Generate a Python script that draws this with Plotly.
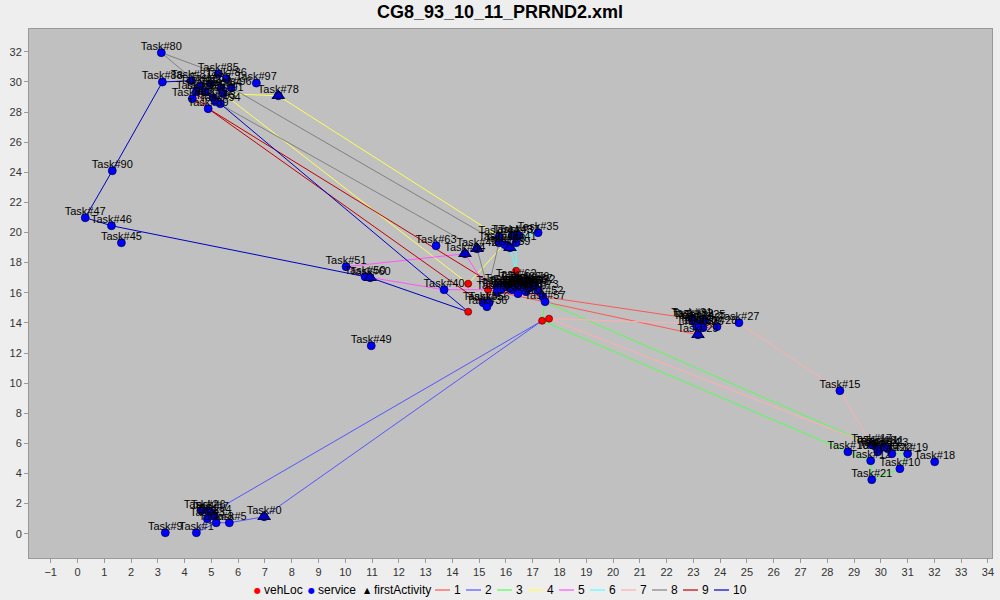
import plotly.graph_objects as go

# ---------------- data ----------------
veh_ids = ["VA", "VB", "VC", "VD", "VE", "VF"]
veh_x = [14.59, 14.59, 15.33, 16.38, 17.35, 17.61]
veh_y = [16.60, 14.74, 16.20, 17.46, 14.14, 14.28]

svc_ids = [80, 88, 97, 78, 81, 85, 82, 83, 86, 84, 91, 92, 87, 93, 94, 89, 95, 96, 79,
           90, 47, 46, 45,
           51, 50, 60, 49, 40, 63, 34, 42,
           44, 48, 38, 39, 43, 41, 37, 35,
           62, 53, 54, 58, 59, 61, 64, 65, 66, 67, 52, 57,
           68, 69, 70, 71, 72, 73, 74, 75, 76, 77,
           55, 56, 36,
           31, 32, 24, 25, 33, 26, 28, 27, 29, 30, 15,
           16, 17, 13, 20, 14, 11, 23, 22, 19, 18, 12, 10, 21,
           9, 1, 8, 5, 0, 7, 3, 2, 6, 4]
svc_x = [3.13, 3.17, 6.68, 7.50, 4.25, 5.26, 4.59, 4.96, 5.56, 5.37, 5.44, 5.07, 4.29, 5.15, 5.33, 4.88, 4.77, 5.74, 4.44,
         1.30, 0.29, 1.27, 1.64,
         10.03, 10.74, 10.93, 10.97, 13.69, 13.39, 14.47, 14.92,
         15.74, 15.74, 15.96, 16.15, 16.23, 16.38, 16.49, 17.20,
         16.38, 15.67, 15.67, 16.23, 16.45, 16.64, 16.45, 16.79, 16.53, 16.98, 17.38, 17.46,
         15.97, 16.12, 16.75, 16.90, 17.08, 17.20, 16.30, 16.60, 16.86, 15.82,
         15.15, 15.37, 15.29,
         22.94, 22.98, 23.02, 23.43, 23.24, 23.36, 23.88, 24.70, 23.17, 23.13, 28.47,
         28.77, 29.66, 29.81, 29.89, 29.96, 30.11, 30.26, 30.41, 31.00, 32.01, 29.62, 30.71, 29.66,
         3.28, 4.44, 5.18, 5.67, 6.97, 5.00, 4.85, 4.62, 4.88, 5.11]
svc_y = [31.94, 29.99, 29.92, 29.08, 30.08, 30.54, 29.75, 29.88, 30.21, 29.55, 29.22, 28.95, 28.88, 28.69, 28.55, 28.22, 29.35, 29.61, 29.35,
         24.10, 20.98, 20.45, 19.32,
         17.73, 17.07, 17.00, 12.48, 16.20, 19.12, 18.59, 18.92,
         19.72, 19.32, 19.19, 18.99, 19.79, 19.32, 19.79, 19.99,
         16.87, 16.40, 16.07, 16.20, 16.20, 16.20, 15.94, 16.40, 16.67, 16.53, 15.74, 15.41,
         16.53, 16.33, 16.07, 16.33, 16.47, 16.14, 16.47, 16.40, 16.67, 16.20,
         15.34, 15.34, 15.07,
         14.28, 14.21, 14.08, 14.14, 13.94, 13.68, 13.75, 14.01, 13.21, 13.75, 9.50,
         5.44, 5.91, 5.78, 5.44, 5.64, 5.78, 5.64, 5.31, 5.31, 4.78, 4.85, 4.32, 3.59,
         0.07, 0.07, 0.73, 0.73, 1.13, 1.39, 1.00, 1.53, 1.53, 1.20]

first_ids = [78, 60, 34, 42, 39, 29, 0]

routes = {
    "1": ["VC", 29, 26, 28, 25, 24, 31, 52, "VC"],
    "2": ["VE", 0, 5, 8, 1, 3, 2, 6, 4, 7, "VE"],
    "3": ["VE", 16, 12, 21, 10, 19, 22, 23, 11, 14, 20, 13, 57, "VE"],
    "4": ["VA", 43, 44, 78, 91, "VA"],
    "5": ["VC", 34, 51, 50, 40, "VC"],
    "6": ["VD", 39, 37, 35, 41, "VD"],
    "7": ["VF", 33, 30, 27, 15, 17, "VF"],
    "8": ["VC", 42, 93, 82, 80, 85, 86, 96, 48, "VC"],
    "9": ["VC", 53, 87, 79, 89, 36, "VC"],
    "10": ["VB", 60, 46, 47, 90, 88, 81, 95, 94, "VB"],
}
route_colors = ["#FF5555", "#5555FF", "#55FF55", "#FFFF55", "#FF55FF",
                "#55FFFF", "#FFAFAF", "#808080", "#C00000", "#0000C0"]

legend_point_names = ["vehLoc", "service", "firstActivity"]
legend_point_colors = ["#FF0000", "#0000FF", "#000000"]
legend_point_glyphs = ["●", "●", "▲"]

# ---------------- build ----------------
pos = {}
for i, v in enumerate(veh_ids):
    pos[v] = (veh_x[i], veh_y[i])
for i, s in enumerate(svc_ids):
    pos[s] = (svc_x[i], svc_y[i])

FONT = "Liberation Sans, Arial, sans-serif"
ML, MR, MT, MB = 29, 8, 29, 42
W, H = 1000, 600
PW, PH = W - ML - MR, H - MT - MB


def px2paper_x(px):
    return (px - ML) / PW


def py2paper_y(py):
    return (H - MB - py) / PH


fig = go.Figure()

for (name, seq), col in zip(routes.items(), route_colors):
    fig.add_trace(go.Scatter(
        x=[pos[n][0] for n in seq], y=[pos[n][1] for n in seq],
        mode="lines", name=name, line=dict(color=col, width=1),
        hoverinfo="skip", showlegend=False))

fig.add_trace(go.Scatter(x=veh_x, y=veh_y, mode="markers", showlegend=False, name="vehLoc",
                         marker=dict(symbol="circle", size=7, color="#FF0000",
                                     line=dict(color="rgba(90,0,0,0.7)", width=1))))
fig.add_trace(go.Scatter(x=svc_x, y=svc_y, mode="markers", showlegend=False, name="service",
                         marker=dict(symbol="circle", size=8, color="#0000FF",
                                     line=dict(color="rgba(0,0,70,0.7)", width=1))))
fig.add_trace(go.Scatter(x=[pos[f][0] for f in first_ids], y=[pos[f][1] for f in first_ids],
                         mode="markers", showlegend=False, name="firstActivity",
                         marker=dict(symbol="triangle-up", size=11, color="#0000C8",
                                     line=dict(color="#000040", width=1))))
fig.add_trace(go.Scatter(x=svc_x, y=svc_y, mode="text", showlegend=False,
                         text=["Task#%d" % s for s in svc_ids], textposition="top center",
                         textfont=dict(family=FONT, size=11, color="#000000"),
                         hoverinfo="skip"))

# ---- custom legend (JFreeChart style, compact) ----
shapes = []
annotations = []
LY = 590
glyph_px = [257, 311, 367]
for nm, col, g, gx in zip(legend_point_names, legend_point_colors, legend_point_glyphs, glyph_px):
    annotations.append(dict(xref="paper", yref="paper", x=px2paper_x(gx), y=py2paper_y(LY),
                            text=g, showarrow=False, xanchor="center", yanchor="middle",
                            font=dict(family="DejaVu Sans", size=8, color=col)))
    annotations.append(dict(xref="paper", yref="paper", x=px2paper_x(gx + 5), y=py2paper_y(LY),
                            text=nm, showarrow=False, xanchor="left", yanchor="middle",
                            font=dict(family=FONT, size=12, color="#000000")))
cx = 435
for name, col in zip(routes.keys(), route_colors):
    shapes.append(dict(type="line", xref="paper", yref="paper",
                       x0=px2paper_x(cx), x1=px2paper_x(cx + 15),
                       y0=py2paper_y(LY), y1=py2paper_y(LY),
                       line=dict(color=col, width=1.2)))
    annotations.append(dict(xref="paper", yref="paper", x=px2paper_x(cx + 17), y=py2paper_y(LY),
                            text=name, showarrow=False, xanchor="left", yanchor="middle",
                            font=dict(family=FONT, size=12, color="#000000")))
    cx += 31

fig.update_layout(
    width=W, height=H,
    margin=dict(l=ML, r=MR, t=MT, b=MB, autoexpand=False),
    paper_bgcolor="#EEEEEE", plot_bgcolor="#C0C0C0",
    title=dict(text="<b>CG8_93_10_11_PRRND2.xml</b>", x=0.5, xanchor="center",
               y=0.98, yanchor="middle", yref="container",
               font=dict(family=FONT, size=18, color="#000000")),
    font=dict(family=FONT, size=11, color="#333333"),
    showlegend=False,
    shapes=shapes,
    annotations=annotations,
)
fig.update_xaxes(range=[-1.81, 34.15], tickmode="linear", tick0=-1, dtick=1,
                 showgrid=False, zeroline=False, ticks="outside", ticklen=4,
                 tickcolor="#999999", showline=True, linecolor="#999999", mirror=True,
                 tickfont=dict(family=FONT, size=11, color="#333333"))
fig.update_yaxes(range=[-1.61, 33.51], tickmode="linear", tick0=0, dtick=2,
                 showgrid=False, zeroline=False, ticks="outside", ticklen=4,
                 tickcolor="#999999", showline=True, linecolor="#999999", mirror=True,
                 tickfont=dict(family=FONT, size=11, color="#333333"))

fig.write_html("out.html")
